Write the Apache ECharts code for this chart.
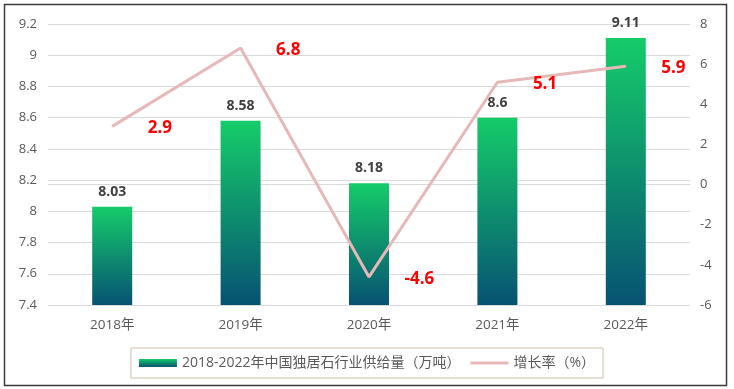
<!DOCTYPE html>
<html><head><meta charset="utf-8">
<script src="https://cdn.jsdelivr.net/npm/echarts@6/dist/echarts.min.js"></script>
<style>html,body{margin:0;padding:0;background:#fff}#c{width:734px;height:389px}</style>
</head><body><div id="c"></div>
<script>
const categories = ['2018年','2019年','2020年','2021年','2022年'];
const supply = [8.03, 8.58, 8.18, 8.6, 9.11];
const growth = [2.9, 6.8, -4.6, 5.1, 5.9];
const supplyName = '2018-2022年中国独居石行业供给量（万吨）';
const growthName = '增长率（%）';

const chart = echarts.init(document.getElementById('c'));
const font = '"Open Sans","Noto Sans CJK SC",sans-serif';
const grad = new echarts.graphic.LinearGradient(0,0,0,1,[{offset:0,color:'#15cc6a'},{offset:1,color:'#075272'}]);
chart.setOption({
  animation:false,
  textStyle:{fontFamily:font},
  graphic:[{type:'rect',shape:{x:4.5,y:4.5,width:722,height:381},style:{fill:'none',stroke:'#3a3a3a',lineWidth:1.5},silent:true}],
  grid:{left:48,right:44,top:24,bottom:84},
  legend:{
    bottom:11, left:'center',
    borderColor:'#cbc3a6', borderWidth:1, padding:[8,8,8,8],
    itemGap:10, itemWidth:38, itemHeight:8,
    textStyle:{color:'#595959',fontSize:14,fontFamily:font},
    data:[{name:supplyName,icon:'rect',itemStyle:{color:grad}},
          {name:growthName,icon:'path://M0 0H40V3H0Z',itemStyle:{color:'#e6b9b8'}}],
  },
  xAxis:{type:'category',data:categories,
    axisLine:{lineStyle:{color:'#d9d9d9'}},axisTick:{show:false},
    axisLabel:{color:'#595959',fontSize:13.5,margin:13}},
  yAxis:[
    {type:'value',min:7.4,max:9.2,interval:0.2,
     axisLabel:{color:'#595959',fontSize:13,margin:11,formatter:v=>String(+v.toFixed(1))},
     splitLine:{lineStyle:{color:'#d9d9d9'}},axisLine:{show:false},axisTick:{show:false}},
    {type:'value',min:-6,max:8,interval:2,
     axisLabel:{color:'#595959',fontSize:13,margin:10},
     splitLine:{show:false},axisLine:{show:false},axisTick:{show:false}}
  ],
  series:[
    {name:supplyName,type:'bar',data:supply,barWidth:40,
     itemStyle:{color:grad},
     label:{show:true,position:'top',distance:8,color:'#404040',fontWeight:'bold',fontSize:14}},
    {name:growthName,type:'line',yAxisIndex:1,data:growth,symbol:'circle',symbolSize:1,
     lineStyle:{color:'#e6b9b8',width:3},itemStyle:{color:'#e6b9b8'},
     label:{show:true,position:'right',distance:35,offset:[0,2],color:'#ff0000',fontWeight:'bold',fontSize:17}}
  ]
});
</script></body></html>
